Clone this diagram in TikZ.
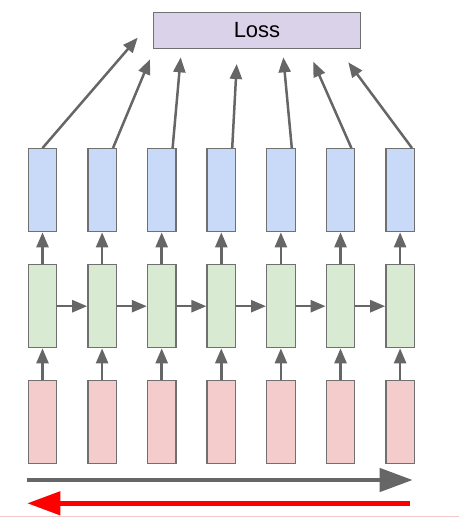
\documentclass[tikz,border=0pt]{standalone}
\usepackage{fontspec}
\setmainfont{Liberation Sans}
\usetikzlibrary{arrows.meta}
\definecolor{ln}{HTML}{666666}
\definecolor{edgec}{HTML}{707070}
\definecolor{bluef}{HTML}{C9DAF8}
\definecolor{greenf}{HTML}{D9EAD3}
\definecolor{redf}{HTML}{F4CCCC}
\definecolor{lossf}{HTML}{D9D2E9}
\definecolor{pinkline}{HTML}{F0C8C8}
\begin{document}
\begin{tikzpicture}[x=1pt,y=-1pt,
  cell/.style={draw=edgec, line width=1.3pt, minimum width=28.5pt, minimum height=83pt, inner sep=0pt},
  bluecell/.style={cell, fill=bluef},
  greencell/.style={cell, fill=greenf},
  redcell/.style={cell, fill=redf},
  arr/.style={draw=ln, line width=2.5pt, -{Triangle[length=15pt,width=12pt]}},
  bigarr/.style={line width=4.5pt, -{Triangle[length=33pt,width=23pt]}}]
\useasboundingbox (0,0) rectangle (459,517);
\node[draw=edgec, line width=1.3pt, fill=lossf, minimum width=207pt, minimum height=36pt, inner sep=0pt, font=\fontsize{22pt}{26pt}\selectfont] (loss) at (257,30.3) {Loss};
\foreach \i in {1,...,7} {
  \pgfmathsetmacro{\xx}{42.5+59.6*(\i-1)}
  \node[bluecell] (b\i) at (\xx,190.2) {};
  \node[greencell] (g\i) at (\xx,306.2) {};
  \node[redcell] (r\i) at (\xx,422.2) {};
  \draw[arr] (r\i) -- (g\i);
  \draw[arr] (g\i) -- (b\i);
}
\foreach \i [evaluate=\i as \j using int(\i+1)] in {1,...,6} {
  \draw[arr] (g\i) -- (g\j);
}
\coordinate (t1) at (137.7,37.7);
\coordinate (t2) at (150,59.3);
\coordinate (t3) at (180.7,57.3);
\coordinate (t4) at (236.7,64);
\coordinate (t5) at (283.3,57.3);
\coordinate (t6) at (313.3,61.7);
\coordinate (t7) at (348.3,62.3);
\draw[arr] (b1.north) -- (t1);
\foreach \i in {2,...,6} {
  \draw[arr] ([xshift=-4pt]b\i.north east) -- (t\i);
}
\draw[arr] ([xshift=-3pt]b7.north east) -- (t7);
\coordinate (fs) at (27.3,480);
\coordinate (fe) at (412.7,480);
\coordinate (bs) at (410,503.3);
\coordinate (be) at (27.3,503.3);
\draw[bigarr, draw=ln, fill=ln] (fs) -- (fe);
\draw[bigarr, draw=red, fill=red] (bs) -- (be);
\coordinate (pl) at (0,516.5);
\coordinate (pr) at (459,516.5);
\draw[pinkline, line width=1pt] (pl) -- (pr);
\end{tikzpicture}
\end{document}
